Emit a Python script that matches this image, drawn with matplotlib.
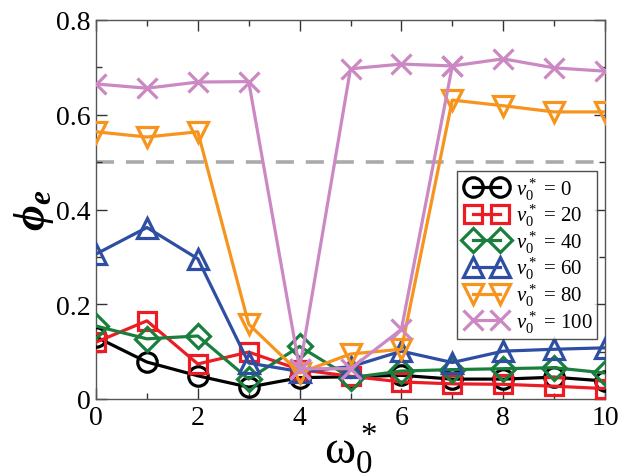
import matplotlib
matplotlib.use("Agg")
import matplotlib.pyplot as plt
from matplotlib.ticker import MultipleLocator
from matplotlib.font_manager import FontProperties
from matplotlib.legend_handler import HandlerLine2D
from matplotlib.lines import Line2D

SERIF = 'Liberation Serif'
plt.rcParams['font.family'] = [SERIF, 'DejaVu Serif']
plt.rcParams['mathtext.fontset'] = 'custom'
plt.rcParams['mathtext.rm'] = SERIF
plt.rcParams['mathtext.it'] = SERIF + ':italic'
plt.rcParams['mathtext.bf'] = SERIF + ':bold:italic'

# rotation frequency omega_0^*
omega = [0, 1, 2, 3, 4, 5, 6, 7, 8, 9, 10]

# escaped fraction phi_e for each self-propulsion speed v_0^*
phi_v0 = [0.131, 0.078, 0.049, 0.025, 0.045, 0.047, 0.050, 0.042, 0.042, 0.046, 0.038]
phi_v20 = [0.120, 0.165, 0.074, 0.099, 0.062, 0.048, 0.036, 0.032, 0.031, 0.027, 0.022]
phi_v40 = [0.154, 0.127, 0.133, 0.042, 0.111, 0.045, 0.059, 0.062, 0.064, 0.066, 0.055]
phi_v60 = [0.306, 0.362, 0.296, 0.076, 0.058, 0.068, 0.101, 0.077, 0.101, 0.105, 0.108]
phi_v80 = [0.564, 0.553, 0.564, 0.158, 0.055, 0.095, 0.105, 0.631, 0.619, 0.606, 0.606]
phi_v100 = [0.665, 0.656, 0.669, 0.670, 0.064, 0.697, 0.707, 0.703, 0.718, 0.699, 0.692]

# second branch of the v_0^* = 100 curve
omega_v100_branch = [4, 5, 6, 7]
phi_v100_branch = [0.064, 0.064, 0.147, 0.703]

threshold = 0.5

x_ticks = [0, 2, 4, 6, 8, 10]
x_ticklabels = ['0', '2', '4', '6', '8', '10']
y_ticks = [0, 0.2, 0.4, 0.6, 0.8]
y_ticklabels = ['0', '0.2', '0.4', '0.6', '0.8']

labels = [r'$v_0^*$ = 0', r'$v_0^*$ = 20', r'$v_0^*$ = 40',
          r'$v_0^*$ = 60', r'$v_0^*$ = 80', r'$v_0^*$ = 100']
colors = ['#000000', '#ec1c24', '#1a7f3c', '#2e4ea3', '#f7941d', '#cc88c2']
markers = ['o', 's', 'D', '^', 'v', 'x']
sizes = [14, 13, 12, 15, 15, 14]

fig = plt.figure(figsize=(6.18, 4.77), dpi=100)
ax = fig.add_axes([96 / 618, 1 - 400 / 477, (605 - 96) / 618, (400 - 21) / 477])

ax.axhline(threshold, color='#aaaaaa', lw=2.6, ls=(0, (5, 3.3)), zorder=1)

series = [phi_v0, phi_v20, phi_v40, phi_v60, phi_v80, phi_v100]
for ys, c, m, s, lab in zip(series, colors, markers, sizes, labels):
    ax.plot(omega, ys, color=c, lw=2.3, marker=m, ms=s, mfc='none',
            mec=c, mew=2.3, label=lab, zorder=3)
ax.plot(omega_v100_branch, phi_v100_branch, color=colors[5], lw=2.3,
        marker='x', ms=sizes[5], mec=colors[5], mew=2.3, zorder=3)

tick_font = FontProperties(family=SERIF, size=20)
ax.set_xlim(0, 10)
ax.set_ylim(0, 0.8)
ax.xaxis.set_minor_locator(MultipleLocator(1))
ax.yaxis.set_minor_locator(MultipleLocator(0.1))
ax.set_xticks(x_ticks)
ax.set_xticklabels(x_ticklabels, fontproperties=tick_font)
ax.set_yticks(y_ticks)
ax.set_yticklabels(y_ticklabels, fontproperties=tick_font)
ax.tick_params(which='both', direction='in', top=True, right=True,
               colors='#333333', labelcolor='black', width=1)
ax.tick_params(which='major', length=8, pad=4)
ax.tick_params(which='minor', length=4)
for sp in ax.spines.values():
    sp.set_color('#555555')
    sp.set_linewidth(1)

ax.set_xlabel(r'$\mathrm{\omega}_0^*$', fontsize=34, labelpad=-6, family=SERIF)
ax.set_ylabel(r'$\mathbf{\phi_e}$', fontsize=32, labelpad=0, family=SERIF)

leg = ax.legend(loc='upper left', bbox_to_anchor=(0.709, 0.602),
                prop=FontProperties(family=SERIF, size=15),
                frameon=True, fancybox=False, numpoints=2,
                handler_map={Line2D: HandlerLine2D(marker_pad=0.58)},
                handlelength=2.45, handletextpad=0.2, labelspacing=0.0,
                borderpad=0.2, borderaxespad=0)
leg.get_frame().set_edgecolor('#222222')
leg.get_frame().set_linewidth(1)

fig.savefig('out.png', dpi=100)
